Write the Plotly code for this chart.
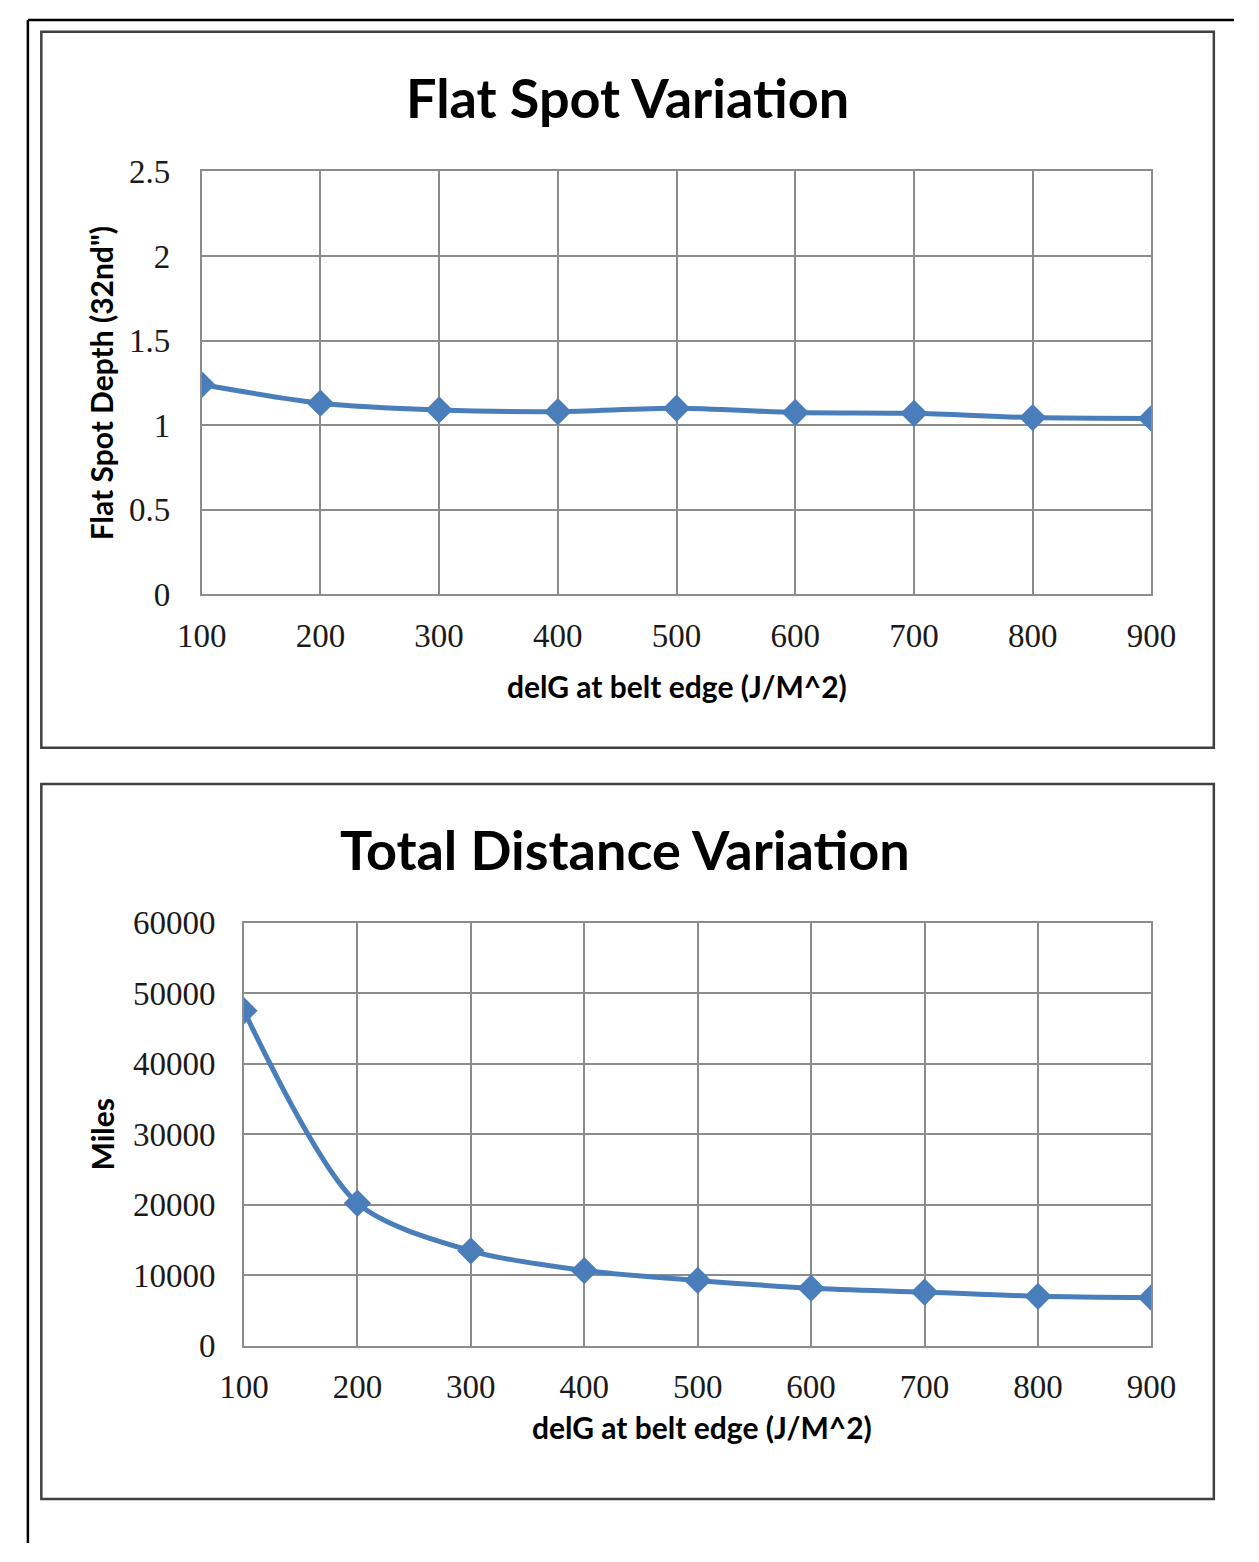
import plotly.graph_objects as go

W, H = 1259, 1562

# ---- data ----
delg = [100, 200, 300, 400, 500, 600, 700, 800, 900]
flat_spot_depth = [1.24, 1.13, 1.09, 1.08, 1.10, 1.075, 1.07, 1.045, 1.04]
total_miles = [47500, 20200, 13450, 10650, 9250, 8150, 7600, 7000, 6800]

x_ticks = [100, 200, 300, 400, 500, 600, 700, 800, 900]
y1_ticks = [0, 0.5, 1, 1.5, 2, 2.5]
y1_labels = ["0", "0.5", "1", "1.5", "2", "2.5"]
y2_ticks = [0, 10000, 20000, 30000, 40000, 50000, 60000]
y2_labels = ["0", "10000", "20000", "30000", "40000", "50000", "60000"]

title1 = "Flat Spot Variation"
title2 = "Total Distance Variation"
xtitle = "delG at belt edge (J/M^2)"
ytitle1 = "Flat Spot Depth (32nd\")"
ytitle2 = "Miles"


def px(x):
    return x / W


def py(y):
    return 1 - y / H


BLUE = "#4A7EBB"
GRID = "#8C8C8C"
TICKFONT = dict(family="Liberation Serif", size=33, color="#1a1a1a")
BOLD = "Lato"

fig = go.Figure()
fig.add_trace(go.Scatter(
    x=delg, y=flat_spot_depth, xaxis="x", yaxis="y", mode="lines+markers",
    line=dict(color=BLUE, width=5, shape="spline", smoothing=0.8),
    marker=dict(symbol="diamond", size=21, color=BLUE), showlegend=False))
fig.add_trace(go.Scatter(
    x=delg, y=total_miles, xaxis="x2", yaxis="y2", mode="lines+markers",
    line=dict(color=BLUE, width=5, shape="spline", smoothing=0.8),
    marker=dict(symbol="diamond", size=21, color=BLUE), showlegend=False))

axis_common = dict(showgrid=True, gridcolor=GRID, gridwidth=1.5, showline=True,
                   linecolor=GRID, linewidth=1.5, mirror=True, zeroline=False,
                   tickfont=TICKFONT, ticks="")

fig.update_layout(
    width=W, height=H, autosize=False,
    margin=dict(l=0, r=0, t=0, b=0),
    paper_bgcolor="white", plot_bgcolor="white",
    xaxis=dict(domain=[px(184), px(1173)], anchor="y", range=[100, 900],
               tickvals=x_ticks, ticktext=[str(v) for v in x_ticks],
               ticklabelstandoff=11, **axis_common),
    yaxis=dict(domain=[py(591), py(158)], anchor="x", range=[0, 2.5],
               tickvals=y1_ticks, ticktext=y1_labels,
               ticklabelstandoff=23, **axis_common),
    xaxis2=dict(domain=[px(228), px(1173)], anchor="y2", range=[100, 900],
                tickvals=x_ticks, ticktext=[str(v) for v in x_ticks],
                ticklabelstandoff=11, **axis_common),
    yaxis2=dict(domain=[py(1360), py(927)], anchor="x2", range=[0, 60000],
                tickvals=y2_ticks, ticktext=y2_labels,
                ticklabelstandoff=20, **axis_common),
)

shapes = []
# outer black frame (top + left)
shapes.append(dict(type="line", xref="paper", yref="paper", x0=px(3), x1=px(1259),
                   y0=py(3), y1=py(3), line=dict(color="black", width=2.5)))
shapes.append(dict(type="line", xref="paper", yref="paper", x0=px(3), x1=px(3),
                   y0=py(3), y1=py(1562), line=dict(color="black", width=2.5)))
# panels
for (y0, y1) in [(15, 748), (785, 1517)]:
    shapes.append(dict(type="rect", xref="paper", yref="paper",
                       x0=px(17), x1=px(1238), y0=py(y1), y1=py(y0),
                       line=dict(color="#404040", width=2.5)))
fig.update_layout(shapes=shapes)

ann = []
ann.append(dict(text=f"<b>{title1}</b>", x=px(627), y=py(82), xref="paper", yref="paper",
                showarrow=False, xanchor="center", yanchor="middle",
                font=dict(family=BOLD, size=54, color="black")))
ann.append(dict(text=f"<b>{title2}</b>", x=px(625), y=py(852), xref="paper", yref="paper",
                showarrow=False, xanchor="center", yanchor="middle",
                font=dict(family=BOLD, size=54, color="black")))
ann.append(dict(text=f"<b>{xtitle}</b>", x=px(679), y=py(685), xref="paper", yref="paper",
                showarrow=False, xanchor="center", yanchor="middle",
                font=dict(family=BOLD, size=30, color="black")))
ann.append(dict(text=f"<b>{xtitle}</b>", x=px(705), y=py(1443), xref="paper", yref="paper",
                showarrow=False, xanchor="center", yanchor="middle",
                font=dict(family=BOLD, size=30, color="black")))
ann.append(dict(text=f"<b>{ytitle1}</b>", x=px(80), y=py(375), xref="paper", yref="paper",
                showarrow=False, xanchor="center", yanchor="middle", textangle=-90,
                font=dict(family=BOLD, size=30, color="black")))
ann.append(dict(text=f"<b>{ytitle2}</b>", x=px(80), y=py(1144), xref="paper", yref="paper",
                showarrow=False, xanchor="center", yanchor="middle", textangle=-90,
                font=dict(family=BOLD, size=30, color="black")))
fig.update_layout(annotations=ann)

fig.write_html("out.html",
               post_script="document.body.style.margin='0';document.body.style.overflow='hidden';")
